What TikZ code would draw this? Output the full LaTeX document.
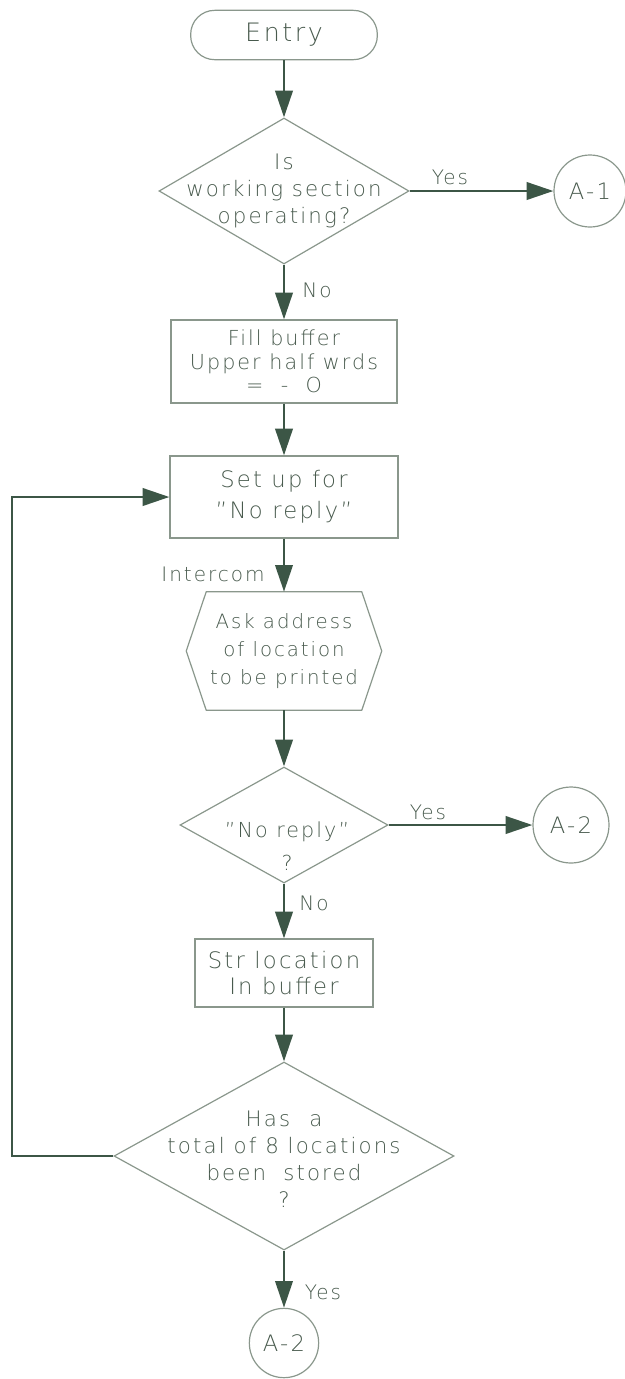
\documentclass[tikz,border=0pt]{standalone}
\usepackage{fontspec}
\setmainfont{DejaVu Sans ExtraLight}[LetterSpace=10]
\usetikzlibrary{arrows.meta,shapes.geometric}
\definecolor{ink}{HTML}{3C5646}
\definecolor{outline}{HTML}{8A978C}
\definecolor{letter}{HTML}{485A4D}
\begin{document}
\begin{tikzpicture}[x=0.75pt,y=-0.75pt,
  shapeline/.style={draw=outline, line width=0.9pt},
  txt/.style={text=letter, align=center, inner sep=0pt},
  flow/.style={draw=ink, line width=2pt, line join=miter,
    -{Triangle[length=20pt,width=13pt]}},
  pill/.style={shapeline, txt, rounded corners=18pt, minimum width=140pt, minimum height=37pt},
  stepbox/.style={shapeline, txt, rectangle},
  decision/.style={shapeline, diamond, inner sep=0pt},
  connector/.style={shapeline, txt, circle, font=\fontsize{17}{19}\selectfont},
  lbl/.style={text=letter, inner sep=0pt, font=\fontsize{15}{17}\selectfont}
]
\useasboundingbox (0,0) rectangle (625,1379);

% --- shapes ---
\node[pill, font=\fontsize{19}{21}\selectfont] (entry) at (284,35) {Entry};

\node[decision, minimum width=187.5pt, minimum height=109.5pt] (d1) at (284,191) {};
\node[txt, font=\fontsize{16}{20.5}\selectfont] (d1t) at (284,191) {Is\\working section\\operating?};
\node[connector, minimum size=54pt] (a1) at (590,191) {A-1};

\node[stepbox, minimum width=169.5pt, minimum height=62.25pt,
  font=\fontsize{15.5}{17.6}\selectfont] (b1) at (284,361.5)
  {Fill buffer\\Upper half wrds\\=~~-~~O};

\node[stepbox, minimum width=171pt, minimum height=61.5pt,
  font=\fontsize{17}{23}\selectfont] (b2) at (284,497) {Set up for\\"No reply"};

% input/output hexagon
\node[txt, minimum width=146.25pt, minimum height=88.5pt,
  font=\fontsize{14.8}{21}\selectfont] (hx) at (284,651)
  {Ask address\\of location\\to be printed};
\draw[shapeline] ([xshift=15pt]hx.north west) -- ([xshift=-15pt]hx.north east)
  -- (hx.east) -- ([xshift=-15pt]hx.south east) -- ([xshift=15pt]hx.south west)
  -- (hx.west) -- cycle;

\node[decision, minimum width=156pt, minimum height=87pt] (d2) at (284,825) {};
\node[txt, font=\fontsize{15.5}{25}\selectfont] (d2t) at (287,846) {"No reply"\\?};
\node[connector, minimum size=57pt] (a2r) at (571,825) {A-2};

\node[stepbox, minimum width=133.5pt, minimum height=51pt,
  font=\fontsize{17}{19.5}\selectfont] (b3) at (284,973) {Str location\\In buffer};

\node[decision, minimum width=255pt, minimum height=141pt] (d3) at (284,1156) {};
\node[txt, font=\fontsize{16}{20.25}\selectfont] (d3t) at (284,1159)
  {Has\hspace{0.9em}a\\total of 8 locations\\been\hspace{0.8em}stored\\?};

\node[connector, minimum size=52pt] (a2b) at (284,1343) {A-2};

% --- connector labels ---
\node[lbl] (y1) at (450,177) {Yes};
\node[lbl] (n1) at (317,290) {No};
\node[lbl] (ic) at (213,574) {Intercom};
\node[lbl] (y2) at (428,812) {Yes};
\node[lbl] (n2) at (314,903) {No};
\node[lbl] (y3) at (323,1292) {Yes};

% --- flow lines ---
\coordinate (loop) at (12,0);
\draw[flow] (entry.south) -- (d1.north);
\draw[flow] (d1.east) -- (a1.west);
\draw[flow] (d1.south) -- (b1.north);
\draw[flow] (b1.south) -- (b2.north);
\draw[flow] (b2.south) -- (hx.north);
\draw[flow] (hx.south) -- (d2.north);
\draw[flow] (d2.east) -- (a2r.west);
\draw[flow] (d2.south) -- (b3.north);
\draw[flow] (b3.south) -- (d3.north);
\draw[flow] (d3.west) -- (d3.west -| loop) |- (b2.west);
\draw[flow] (d3.south) -- (a2b.north);
\end{tikzpicture}
\end{document}
